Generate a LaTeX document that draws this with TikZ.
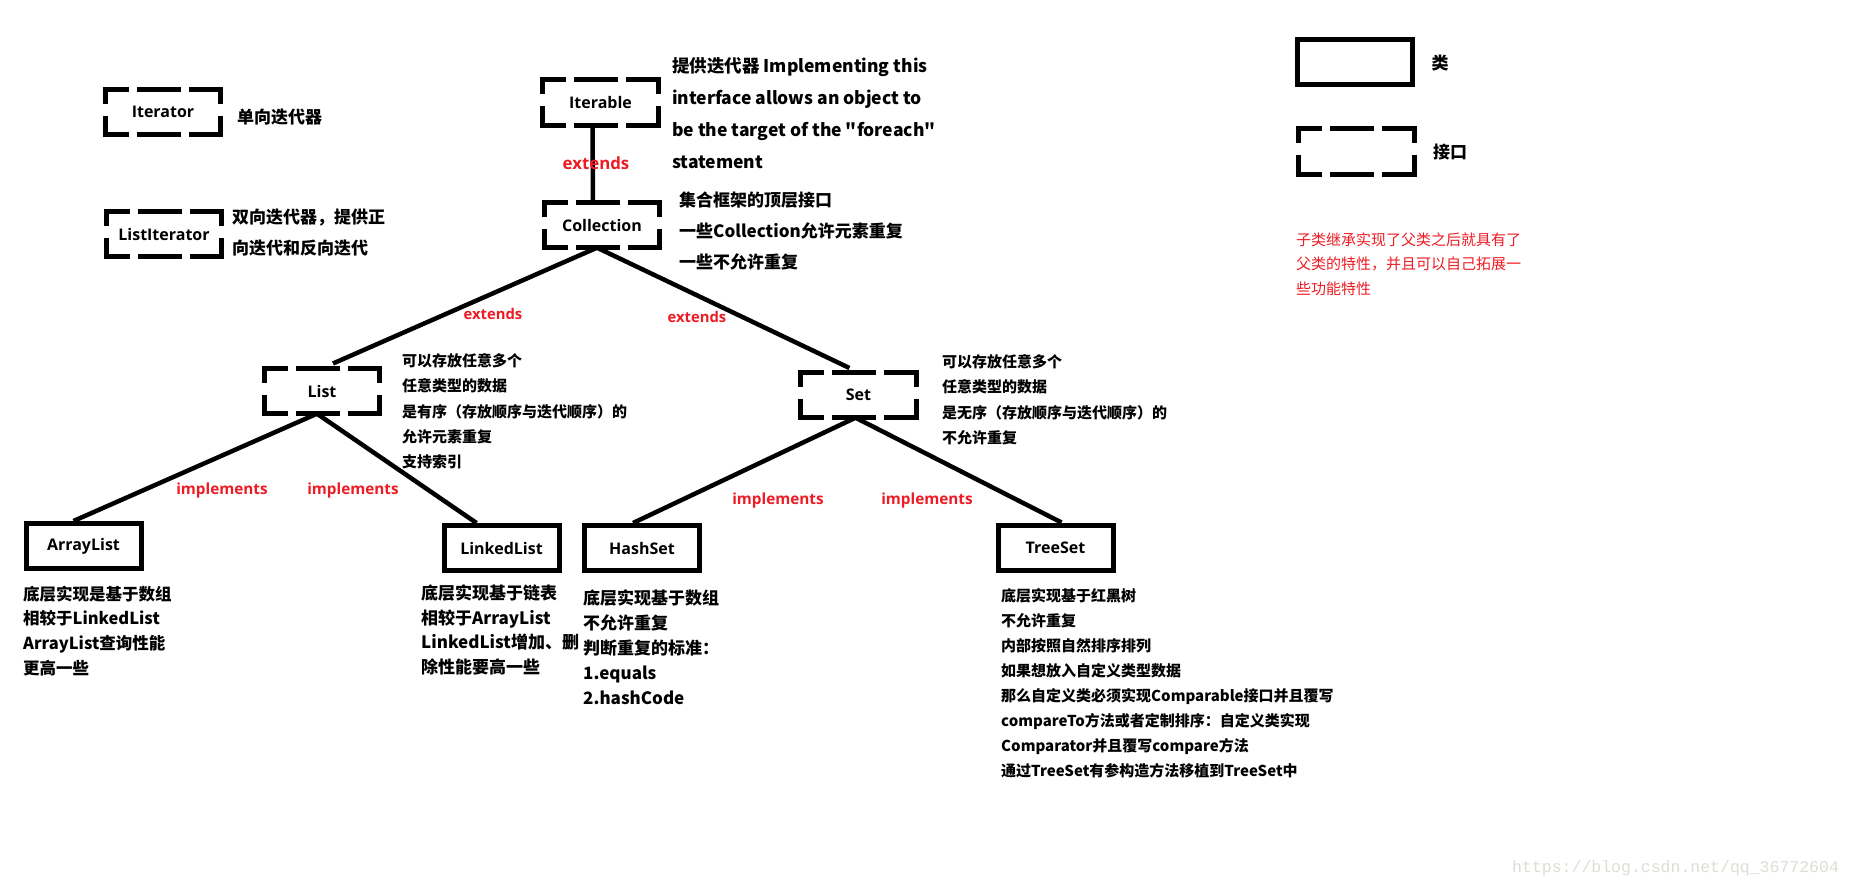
\documentclass[tikz,border=0pt]{standalone}
\usepackage{fontspec}
\setmainfont{Noto Sans CJK SC}[Ligatures=TeXOff]
\newfontfamily\latinsans{Open Sans}
\newfontfamily\urlfont{Liberation Mono}
\usetikzlibrary{positioning,calc}
\definecolor{paintred}{RGB}{237,28,36}
\definecolor{markgray}{RGB}{222,222,214}

\begin{document}
\begin{tikzpicture}[x=1pt, y=-1pt]
    \tikzstyle{klass} = [rectangle, draw, line width=5pt, minimum width=115pt, minimum height=45pt, inner sep=0pt, font=\latinsans\bfseries\fontsize{16}{19}\selectfont]
    \tikzstyle{iface} = [rectangle, minimum width=115pt, minimum height=45pt, inner sep=0pt, font=\latinsans\bfseries\fontsize{16}{19}\selectfont]
    \tikzstyle{hdash} = [line width=5pt, dash pattern=on 26pt off 8pt on 44pt off 8pt on 60pt off 1pt]
    \tikzstyle{vdash} = [line width=5pt, dash pattern=on 17pt off 12pt on 60pt off 1pt]
    \tikzstyle{rel} = [line width=4.5pt]
    \tikzstyle{relname} = [text=paintred, font=\latinsans\bfseries\fontsize{15.3}{18}\selectfont]
    \tikzstyle{note} = [anchor=north west, align=left, inner sep=0pt, font=\bfseries\fontsize{17}{31}\selectfont]
    \tikzstyle{smallnote} = [note, font=\bfseries\fontsize{15}{25.2}\selectfont]

    \path[use as bounding box, fill=white] (0,0) rectangle (1852,888);

    % 接口
    \node[iface] (iterator) at (163,112) {Iterator};
    \node[iface] (listiter) at (164,234) {ListIterator};
    \node[iface] (iterable) at (600.5,102.5) {Iterable};
    \node[iface] (collection) at (602,225) {Collection};
    \node[iface] (list) at (322,391) {List};
    \node[iface] (set) at (858.5,395) {Set};

    % 类
    \node[klass] (arraylist) at (83.5,546) {ArrayList};
    \node[klass] (linkedlist) at (501.5,548) {LinkedList};
    \node[klass] (hashset) at (642,548) {HashSet};
    \node[klass] (treeset) at (1055.5,547.5) {TreeSet};

    % 图例
    \node[klass] (lgklass) at (1354.5,62.5) {};
    \node[iface] (lgiface) at (1356.5,151.5) {};

    % 虚线边框
    \foreach \n in {iterator,listiter,iterable,collection,list,set,lgiface} {
        \draw[hdash] ([xshift=-2.5pt]\n.north west) -- ([xshift=2.5pt]\n.north east);
        \draw[hdash] ([xshift=-2.5pt]\n.south west) -- ([xshift=2.5pt]\n.south east);
        \draw[vdash] ([yshift=2.5pt]\n.north west) -- ([yshift=-2.5pt]\n.south west);
        \draw[vdash] ([yshift=2.5pt]\n.north east) -- ([yshift=-2.5pt]\n.south east);
    }

    % 关系
    \draw[rel] ([xshift=-8pt]iterable.south) -- ([xshift=-9pt]collection.north);
    \draw[rel, shorten >=12pt] ([xshift=-5pt]collection.south) -- (list.north);
    \draw[rel, shorten >=10pt] ([xshift=-5pt]collection.south) -- (set.north);
    \draw[rel] ([xshift=-5pt]list.south) -- ([xshift=-10pt]arraylist.north);
    \draw[rel] ([xshift=-5pt]list.south) -- ([xshift=-25pt]linkedlist.north);
    \draw[rel] ([xshift=-3pt]set.south) -- ([xshift=-9pt]hashset.north);
    \draw[rel] ([xshift=-3pt]set.south) -- ([xshift=6pt]treeset.north);

    \node[relname, font=\latinsans\bfseries\fontsize{16.8}{20}\selectfont] (ext1) at (596,163) {extends};
    \node[relname, font=\latinsans\bfseries\fontsize{14.8}{18}\selectfont] (ext2) at (493,314) {extends};
    \node[relname, font=\latinsans\bfseries\fontsize{14.8}{18}\selectfont] (ext3) at (697,317) {extends};
    \node[relname] (impl1) at (222,491) {implements};
    \node[relname] (impl2) at (353,491) {implements};
    \node[relname] (impl3) at (778,501) {implements};
    \node[relname] (impl4) at (927,501) {implements};

    % 说明
    \node[note] (niterator) at (237,108.5) {单向迭代器};
    \node[note] (nlistiter) at (232,208.5) {双向迭代器，提供正\\向迭代和反向迭代};
    \node[note, font=\bfseries\fontsize{17.5}{32}\selectfont] (niterable) at (672,57.5)
        {提供迭代器 Implementing this\\interface allows an object to\\be the target of the "foreach"\\statement};
    \node[note] (ncollection) at (679,191.5) {集合框架的顶层接口\\一些Collection允许元素重复\\一些不允许重复};
    \node[smallnote] (nlist) at (402,353.5) {可以存放任意多个\\任意类型的数据\\是有序（存放顺序与迭代顺序）的\\允许元素重复\\支持索引};
    \node[smallnote] (nset) at (942,354.5) {可以存放任意多个\\任意类型的数据\\是无序（存放顺序与迭代顺序）的\\不允许重复};
    \node[note, font=\bfseries\fontsize{16.5}{24.7}\selectfont] (narraylist) at (23,585.7) {底层实现是基于数组\\相较于LinkedList\\ArrayList查询性能\\更高一些};
    \node[note, font=\bfseries\fontsize{17}{24.7}\selectfont] (nlinkedlist) at (421,584.5) {底层实现基于链表\\相较于ArrayList\\LinkedList增加、删\\除性能要高一些};
    \node[note, font=\bfseries\fontsize{17}{25}\selectfont] (nhashset) at (583,589.5) {底层实现基于数组\\不允许重复\\判断重复的标准：\\1.equals\\2.hashCode};
    \node[smallnote, font=\bfseries\fontsize{15}{25}\selectfont] (ntreeset) at (1001,588.5) {底层实现基于红黑树\\不允许重复\\内部按照自然排序排列\\如果想放入自定义类型数据\\那么自定义类必须实现Comparable接口并且覆写\\compareTo方法或者定制排序：自定义类实现\\Comparator并且覆写compare方法\\通过TreeSet有参构造方法移植到TreeSet中};

    % 图例说明
    \node[font=\bfseries\fontsize{17}{20}\selectfont] (lgklassname) at (1440,63) {类};
    \node[anchor=west, inner sep=0pt, font=\bfseries\fontsize{17}{20}\selectfont] (lgifacename) at (1433,152) {接口};
    \node[note, text=paintred, font=\fontsize{15}{24.5}\selectfont] (lgnote) at (1296,232.5) {子类继承实现了父类之后就具有了\\父类的特性，并且可以自己拓展一\\些功能特性};

    % 水印
    \node[anchor=west, inner sep=0pt, text=markgray, font=\urlfont\fontsize{16.5}{20}\selectfont] (mark) at (1512,868) {https://blog.csdn.net/qq\_36772604};
\end{tikzpicture}
\end{document}
